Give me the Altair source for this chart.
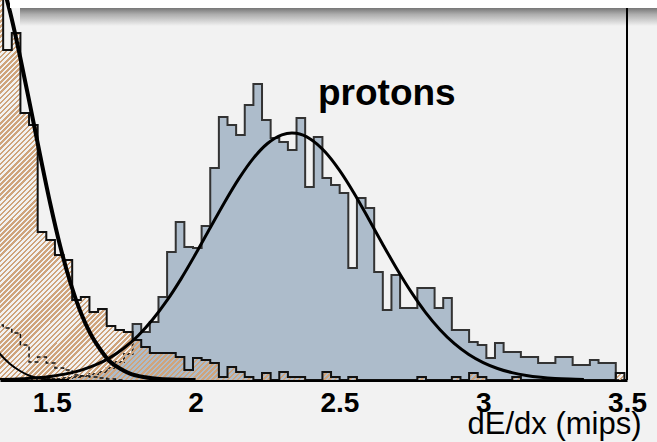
import altair as alt
import pandas as pd
import numpy as np

# ---------------- data ----------------
bin_start = 1.301
bin_width = 0.03

protons = [0, 0, 0, 0, 0, 0, 1, 1, 2, 3, 4, 6, 8, 12, 18, 26, 56, 48, 58, 83,
           128, 158, 133, 132, 154, 212, 263, 255, 245, 275, 296, 260, 242, 238, 230, 262,
           193, 243, 202, 195, 187, 112, 182, 172, 108, 70, 105, 72, 72, 92, 92, 72,
           82, 50, 50, 38, 35, 22, 37, 28, 28, 23, 23, 17, 17, 23, 23, 15, 15, 20,
           17, 17, 0]

pions = [420, 330, 347, 267, 255, 148, 140, 125, 120, 80, 83, 68, 71, 54, 50, 48, 40, 33, 27, 27,
         27, 23, 10, 22, 20, 17, 3, 13, 8, 3, 0, 7, 0, 8, 3, 3, 0, 0, 8, 3,
         0, 3, 0, 0, 0, 0, 0, 0, 0, 3, 0, 0, 0, 3, 0, 7, 3, 0, 0, 0,
         3, 0, 0, 0, 0, 0, 0, 0, 0, 0, 0, 0, 7]

kaons = [55, 52, 47, 35, 18, 23, 17, 12, 10, 5, 4, 3, 2, 1, 0]

proton_fit_x = [1.32, 1.40, 1.45, 1.50, 1.55, 1.60, 1.65, 1.70, 1.75, 1.80, 1.85, 1.90, 1.95, 2.00,
                2.05, 2.10, 2.15, 2.20, 2.25, 2.30, 2.335, 2.35, 2.40, 2.45, 2.50, 2.55, 2.60,
                2.65, 2.70, 2.75, 2.80, 2.85, 2.90, 2.95, 3.00, 3.05, 3.10, 3.15, 3.20, 3.25,
                3.30, 3.35]
proton_fit_y = [0.5, 1.3, 2.2, 3.8, 6.1, 9.6, 14.8, 21.9, 31.7, 44.3, 60.2, 79.3, 101.4, 125.9,
                151.7, 177.3, 201.1, 221.4, 236.5, 245.2, 247, 246.7, 240.8, 228.2, 209.8, 187.2,
                162.0, 136.1, 111.0, 87.8, 67.4, 50.3, 36.3, 25.5, 17.4, 11.5, 7.4, 4.6, 2.8,
                1.6, 0.9, 0.5]

pion_fit_x = [1.30, 1.32, 1.355, 1.39, 1.425, 1.46, 1.495, 1.53, 1.565, 1.60, 1.635, 1.67,
              1.70, 1.74, 1.77, 1.825, 1.875, 1.945, 2.0]
pion_fit_y = [415, 403, 368, 323, 274, 224, 176, 133, 97, 68, 46, 30, 19, 11, 6.6, 2.7,
              1.0, 0.3, 0.1]

kaon_fit_x = [1.30, 1.32, 1.355, 1.39, 1.425, 1.46, 1.51, 1.56]
kaon_fit_y = [34, 26, 16, 9, 4, 1.5, 0.3, 0.05]

tick_values = [1.5, 2, 2.5, 3, 3.5]
x_domain = [1.32, 3.5]
y_domain = [0, 380]

label_text = ["protons"]
label_x = [2.665]
label_y = [275]

# ---------------- helpers ----------------
def step_frame(counts):
    n = len(counts)
    edges = [round(bin_start + bin_width * k, 4) for k in range(n + 1)]
    xs = edges[:n] + [edges[n]]
    ys = list(counts) + [0]
    return pd.DataFrame({"x": xs, "h": ys, "i": list(range(n + 1))})


def curve_frame(xs, ys):
    return pd.DataFrame({"x": xs, "h": ys, "i": list(range(len(xs)))})


df_p = step_frame(protons)
df_pi = step_frame(pions)
df_k = step_frame(kaons)
df_pf = curve_frame(proton_fit_x, proton_fit_y)
df_pif = curve_frame(pion_fit_x, pion_fit_y)
df_kf = curve_frame(kaon_fit_x, kaon_fit_y)
df_lab = pd.DataFrame({"x": label_x, "h": label_y, "t": label_text})

xs = alt.Scale(domain=x_domain, nice=False, zero=False)
ys = alt.Scale(domain=y_domain, nice=False, zero=False)

X = alt.X("x:Q", scale=xs,
          axis=alt.Axis(values=tick_values, format="~g", title="dE/dx (mips)"))
Y = alt.Y("h:Q", scale=ys, axis=None, stack=None)
O = alt.Order("i:Q")

# hatch pattern emulated with a striped linear gradient
tan = "#cfa47c"
clear = "rgba(255,255,255,0)"
period = 3.6 * np.sqrt(2) / 1092.0
stops = []
k = 0
while k * period < 1:
    a = k * period
    b = min(a + 0.5 * period, 1.0)
    c = min(a + period, 1.0)
    stops += [alt.GradientStop(offset=float(a), color=tan),
              alt.GradientStop(offset=float(b), color=tan),
              alt.GradientStop(offset=float(b), color=clear),
              alt.GradientStop(offset=float(c), color=clear)]
    k += 1
hatch = alt.Gradient(gradient="linear", stops=stops, x1=0, y1=0, x2=1.2, y2=0.8)

blue_fill = alt.Chart(df_p).mark_area(interpolate="step-after", color="#adbccb",
                                      opacity=1, clip=True).encode(x=X, y=Y)
blue_line = alt.Chart(df_p).mark_line(interpolate="step-after", color="#333333",
                                      strokeWidth=2, clip=True).encode(x=X, y=Y, order=O)
pi_fill = alt.Chart(df_pi).mark_area(interpolate="step-after", fill=hatch, opacity=1,
                                     clip=True).encode(x=X, y=Y)
pi_line = alt.Chart(df_pi).mark_line(interpolate="step-after", color="#111111",
                                     strokeWidth=2, clip=True).encode(x=X, y=Y, order=O)
k_line = alt.Chart(df_k).mark_line(interpolate="step-after", color="#111111", strokeWidth=1.5,
                                   strokeDash=[4, 3], clip=True).encode(x=X, y=Y, order=O)

pf = alt.Chart(df_pf).mark_line(interpolate="monotone", color="black", strokeWidth=3,
                                clip=True).encode(x=X, y=Y, order=O)
pif = alt.Chart(df_pif).mark_line(interpolate="monotone", color="black", strokeWidth=4,
                                  clip=True).encode(x=X, y=Y, order=O)
kf = alt.Chart(df_kf).mark_line(interpolate="monotone", color="black", strokeWidth=2,
                                clip=True).encode(x=X, y=Y, order=O)

label = alt.Chart(df_lab).mark_text(font="Liberation Sans", fontWeight="bold", fontSize=37,
                                    color="black", align="center", baseline="alphabetic").encode(
    x=X, y=Y, text="t:N")

frame = alt.Chart(pd.DataFrame({"x": [x_domain[1]]})).mark_rule(color="black", strokeWidth=2).encode(
    x=alt.X("x:Q", scale=xs), y=alt.value(8), y2=alt.value(380))

pave = alt.Chart(pd.DataFrame({"a": [0]})).mark_rect(color="white").encode(
    x=alt.value(10), x2=alt.value(657), y=alt.value(-5), y2=alt.value(8))
shadow_grad = alt.Gradient(gradient="linear", x1=0, y1=0, x2=0, y2=1,
                           stops=[alt.GradientStop(offset=0, color="#767676"),
                                  alt.GradientStop(offset=0.35, color="#adadad"),
                                  alt.GradientStop(offset=1, color="#f2f2f2")])
shadow = alt.Chart(pd.DataFrame({"a": [0]})).mark_rect(fill=shadow_grad).encode(
    x=alt.value(20), x2=alt.value(657), y=alt.value(8), y2=alt.value(26))

chart = alt.layer(
    blue_fill, blue_line, pi_fill, pi_line, k_line, pif, pf, kf, label, shadow, pave, frame
).properties(
    width=627, height=380,
    autosize="none",
    padding={"left": 0, "top": 0, "right": 30, "bottom": 62},
    background="#f2f2f2",
).configure_view(
    stroke=None, fill="#f2f2f2"
).configure_axis(
    grid=False, ticks=False,
    domainColor="black", domainWidth=3,
    labelFont="Liberation Sans", labelFontWeight="bold", labelFontSize=28, labelColor="black",
    labelPadding=9, labelOverlap=False, labelFlush=False, labelBound=False,
    titleFont="Liberation Sans", titleFontWeight="normal", titleFontSize=31, titleColor="black",
    titleAlign="right", titleBaseline="alphabetic", titleX=641, titleY=53, titleAnchor="end",
)

chart.save("out.html", embed_options={"renderer": "svg", "actions": False})
